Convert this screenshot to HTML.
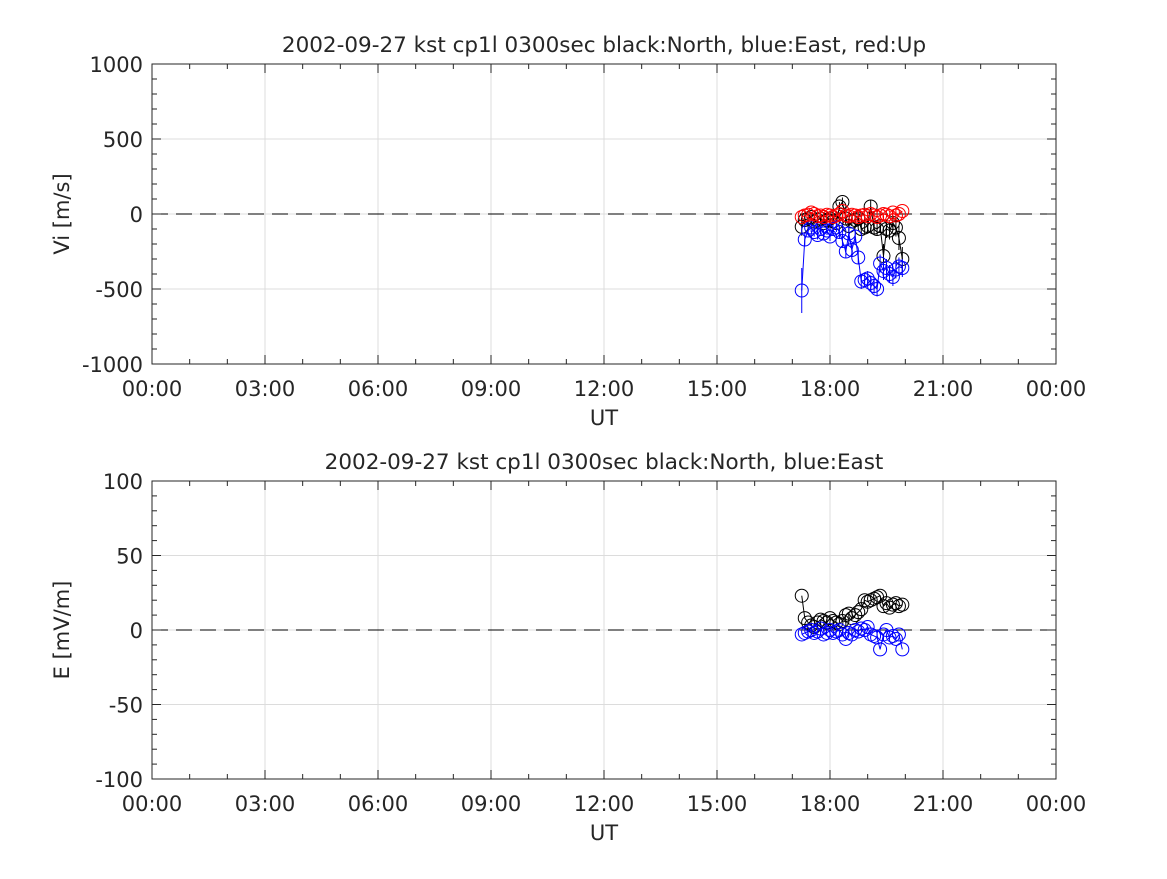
<!DOCTYPE html>
<html><head><meta charset="utf-8"><style>
body{margin:0;background:#fff;font-family:"DejaVu Sans",sans-serif}
svg text{font-family:"DejaVu Sans",sans-serif;fill:#262626}
</style></head><body>
<svg id="fig" width="1167" height="875" xmlns="http://www.w3.org/2000/svg"></svg>
<script>
const times=[17.25,17.33,17.42,17.5,17.58,17.67,17.75,17.83,17.92,18.0,18.08,18.17,18.25,18.33,18.42,18.5,18.58,18.67,18.75,18.83,18.92,19.0,19.08,19.17,19.25,19.33,19.42,19.5,19.58,19.67,19.75,19.83,19.92];
const viNorth=[-85,-40,-30,-20,-50,-40,-30,-60,-40,-30,-50,-60,50,80,-30,-80,-50,-40,-30,-100,-90,-80,50,-90,-100,-80,-280,-100,-110,-60,-90,-160,-300];
const viEast=[-510,-170,-110,-90,-120,-140,-100,-130,-110,-150,-100,-90,-120,-180,-250,-130,-240,-150,-290,-450,-440,-430,-460,-480,-500,-330,-380,-360,-400,-420,-370,-350,-360];
const viUp=[-20,-10,-5,10,0,-15,-10,-20,-5,-10,-20,-10,0,20,-10,-15,-5,-10,-20,-10,-5,-15,0,-10,-20,-10,0,-5,-15,10,-10,0,20];
const viErrNorth=[60,20,20,20,20,20,20,20,20,20,20,20,30,30,30,40,30,30,30,40,40,40,40,40,40,40,80,60,60,50,60,80,80];
const viErrEast=[150,40,30,30,30,30,30,30,30,30,30,30,40,40,40,40,40,40,40,50,50,50,50,50,50,60,60,60,60,60,60,60,60];
const eNorth=[23,8,5,3,2,5,7,6,5,8,6,5,4,6,10,11,8,10,12,14,20,19,20,21,22,23,16,18,15,17,18,16,17];
const eEast=[-3,-2,-1,0,-2,-1,1,-3,-2,0,-2,-1,0,-3,-6,-2,-3,0,-1,1,0,2,-3,-4,-5,-13,-3,0,-5,-4,-6,-3,-13];
const xTickLabels=["00:00","03:00","06:00","09:00","12:00","15:00","18:00","21:00","00:00"];
const viTicks=[1000,500,0,-500,-1000];
const eTicks=[100,50,0,-50,-100];

const NS="http://www.w3.org/2000/svg";
const svg=document.getElementById('fig');
function el(t,a,p){const e=document.createElementNS(NS,t);for(const k in a)e.setAttribute(k,a[k]);(p||svg).appendChild(e);return e;}
const X0=152,X1=1056;
const xs=h=>X0+(X1-X0)*h/24;

function panel(name,top,bot,ymax,ticks,minorStep,title,ylabel,series){
  const g=el('g',{});
  
  
  const ys=v=>top+(bot-top)*(ymax-v)/(2*ymax);
  el('rect',{x:X0,y:top,width:X1-X0,height:bot-top,fill:'#fff'},g);
  for(let i=0;i<=8;i++){const x=xs(i*3);el('line',{x1:x,x2:x,y1:top,y2:bot,stroke:'#dcdcdc','stroke-width':1},g);}
  ticks.forEach(v=>{const y=ys(v);el('line',{x1:X0,x2:X1,y1:y,y2:y,stroke:'#dcdcdc','stroke-width':1},g);});
  el('line',{x1:X0,x2:X1,y1:ys(0),y2:ys(0),stroke:'#000','stroke-width':1,'stroke-dasharray':'16,8'},g);
  series.forEach(s=>{
    const sg=el('g',{},g);
    
    
    if(s.err) s.vals.forEach((v,i)=>{el('line',{x1:xs(times[i]),x2:xs(times[i]),y1:ys(v-s.err[i]),y2:ys(v+s.err[i]),stroke:s.color,'stroke-width':1},sg);});
    el('polyline',{points:s.vals.map((v,i)=>xs(times[i])+','+ys(v)).join(' '),fill:'none',stroke:s.color,'stroke-width':1},sg);
    s.vals.forEach((v,i)=>{const c=el('circle',{cx:xs(times[i]),cy:ys(v),r:6.5,fill:'none',stroke:s.color,'stroke-width':1},sg);});
  });
  for(let h=0;h<=24;h++){const x=xs(h),L=(h%3==0)?9:5;
    el('line',{x1:x,x2:x,y1:bot,y2:bot-L,stroke:'#262626'},g);el('line',{x1:x,x2:x,y1:top,y2:top+L,stroke:'#262626'},g);}
  for(let v=-ymax;v<=ymax;v+=minorStep){const y=ys(v),L=(ticks.includes(v))?9:5;
    el('line',{x1:X0,x2:X0+L,y1:y,y2:y,stroke:'#262626'},g);el('line',{x1:X1,x2:X1-L,y1:y,y2:y,stroke:'#262626'},g);}
  el('rect',{x:X0,y:top,width:X1-X0,height:bot-top,fill:'none',stroke:'#262626','stroke-width':1},g);
  xTickLabels.forEach((t,i)=>{const e=el('text',{x:xs(i*3),y:bot+32,'font-size':21,'text-anchor':'middle'},g);e.textContent=t;});
  ticks.forEach(v=>{const e=el('text',{x:X0-9,y:ys(v)+8,'font-size':21,'text-anchor':'end'},g);e.textContent=v;});
  const tt=el('text',{x:(X0+X1)/2,y:top-12,'font-size':21.5,'text-anchor':'middle'},g);tt.textContent=title;
  
  const xl=el('text',{x:(X0+X1)/2,y:bot+61,'font-size':21,'text-anchor':'middle'},g);xl.textContent='UT';
  
  const yc=(top+bot)/2;
  const yl=el('text',{x:69,y:yc,'font-size':21,'text-anchor':'middle',transform:`rotate(-90 69 ${yc})`},g);yl.textContent=ylabel;
  
}
panel('velocity-panel',64,364,1000,viTicks,100,'2002-09-27 kst cp1l 0300sec black:North, blue:East, red:Up','Vi [m/s]',[
 {name:'vi-north-series',vals:viNorth,err:viErrNorth,color:'#000'},
 {name:'vi-east-series',vals:viEast,err:viErrEast,color:'#0000ff'},
 {name:'vi-up-series',vals:viUp,color:'#ff0000'}]);
panel('efield-panel',481,779,100,eTicks,10,'2002-09-27 kst cp1l 0300sec black:North, blue:East','E [mV/m]',[
 {name:'e-north-series',vals:eNorth,color:'#000'},
 {name:'e-east-series',vals:eEast,color:'#0000ff'}]);
</script>
</body></html>
